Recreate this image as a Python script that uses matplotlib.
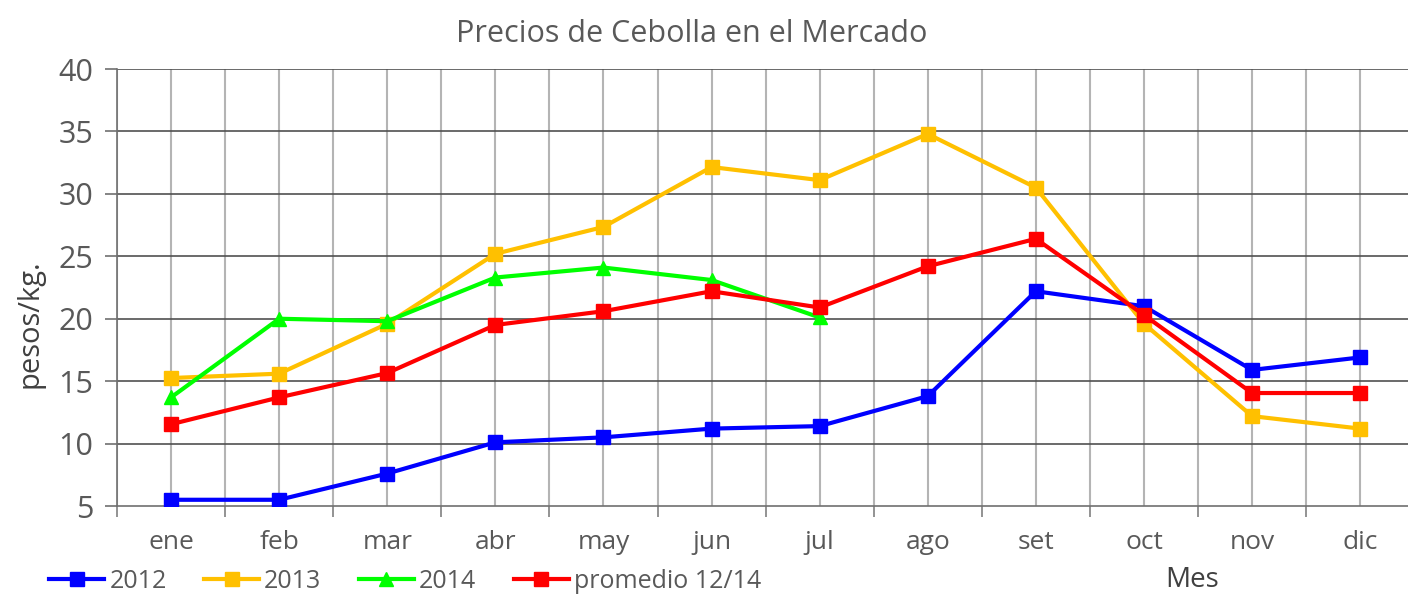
import numpy as np
import matplotlib.pyplot as plt
from matplotlib.ticker import FixedLocator

meses = ['ene', 'feb', 'mar', 'abr', 'may', 'jun', 'jul', 'ago', 'set', 'oct', 'nov', 'dic']
v2012 = [5.5, 5.5, 7.6, 10.1, 10.5, 11.2, 11.4, 13.8, 22.2, 21.0, 15.9, 16.9]
v2013 = [15.25, 15.6, 19.6, 25.2, 27.35, 32.15, 31.1, 34.8, 30.5, 19.6, 12.2, 11.2]
v2014 = [13.7, 20.0, 19.8, 23.3, 24.1, 23.1, 20.1]
promedio = [11.55, 13.7, 15.65, 19.5, 20.6, 22.2, 20.9, 24.2, 26.4, 20.3, 14.05, 14.05]

txt = '#595959'
plt.rcParams['font.family'] = ['Open Sans', 'DejaVu Sans']

fig = plt.figure(figsize=(14.08, 5.97), dpi=100)
ax = fig.add_axes([0.0831, 0.1524, 0.9213, 0.732])

x = np.arange(len(meses))
ax.plot(x, v2012, color='#0000FF', lw=3, marker='s', ms=10, label='2012', zorder=3)
ax.plot(x, v2013, color='#FFC000', lw=3, marker='s', ms=10, label='2013', zorder=3)
ax.plot(x[:len(v2014)], v2014, color='#00FF00', lw=3, marker='^', ms=10, label='2014', zorder=3)
ax.plot(x, promedio, color='#FF0000', lw=3, marker='s', ms=10, label='promedio 12/14', zorder=4)

ax.set_xlim(-0.5, 11.5)
ax.set_ylim(5, 40)
ax.set_yticks(np.arange(5, 41, 5))
ax.set_xticks(x)
ax.set_xticklabels(meses)
ax.xaxis.set_minor_locator(FixedLocator(np.arange(-0.5, 12, 1)))

# gridlines
for xi in np.arange(-0.5, 12, 0.5):
    ax.axvline(xi, color='#b4b4b4', lw=1.5, zorder=1)
for yi in np.arange(10, 41, 5):
    ax.axhline(yi, color='#505050', lw=1.2, zorder=1)

ax.tick_params(axis='x', which='major', length=0, pad=17, labelsize=19, labelcolor=txt)
ax.tick_params(axis='x', which='minor', length=8, width=1.2, color='#808080')
ax.tick_params(axis='y', length=9, width=1.2, color='#707070', pad=8, labelsize=22, labelcolor=txt)

for s in ['top', 'right']:
    ax.spines[s].set_visible(False)
ax.spines['left'].set_color('#707070')
ax.spines['bottom'].set_color('#707070')
ax.spines['left'].set_linewidth(1.2)
ax.spines['bottom'].set_linewidth(1.2)

fig.text(0.0213, 0.457, 'pesos/kg.', fontsize=21, color='#404040',
         rotation=90, ha='center', va='center')
fig.text(0.847, 0.028, 'Mes', fontsize=20, color='#404040', ha='center', va='center')
fig.text(0.491, 0.93, 'Precios de Cebolla en el Mercado', fontsize=22, color=txt, ha='center')

fig.legend(loc='center left', bbox_to_anchor=(0.035, 0.026), ncol=4, frameon=False,
           fontsize=18, handlelength=2.2, columnspacing=1.5, handletextpad=0.2,
           borderpad=0, borderaxespad=0, labelcolor=txt)

fig.savefig('out.png', dpi=100)
